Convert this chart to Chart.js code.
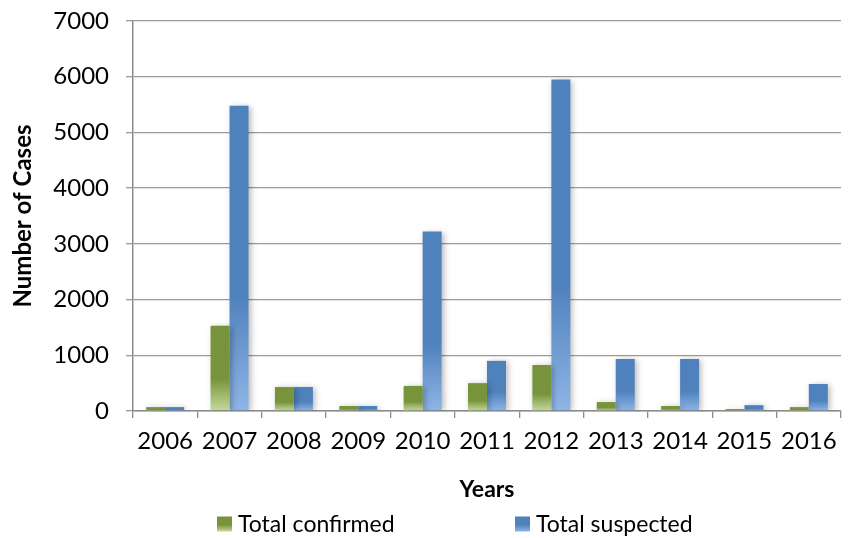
<!DOCTYPE html>
<html>
<head>
<meta charset="utf-8">
<script src="https://cdn.jsdelivr.net/npm/chart.js@4/dist/chart.umd.min.js"></script>
<style>
  html, body { margin: 0; padding: 0; background: #ffffff; }
  #wrap { width: 853px; height: 538px; }
</style>
</head>
<body>
<div id="wrap"><canvas id="c" width="853" height="538"></canvas></div>
<script>
// Yearly case counts
const years = ['2006','2007','2008','2009','2010','2011','2012','2013','2014','2015','2016'];
const totalConfirmed = [70, 1530, 430, 90, 450, 500, 825, 160, 90, 35, 70];
const totalSuspected = [70, 5480, 430, 90, 3220, 900, 5950, 935, 935, 105, 485];
const yTicks = [0, 1000, 2000, 3000, 4000, 5000, 6000, 7000];

const FONT = 'Lato, "Open Sans", sans-serif';
const GREEN = ['#77933c', '#c6d99e'];
const BLUE = ['#4f81bd', '#8fb5e6'];

// Vertical fade toward a lighter tone near the foot of each bar
function barFill(colors) {
  return function (ctx) {
    const chart = ctx.chart;
    if (ctx.type !== 'data' || !chart.chartArea) return colors[0];
    const y = chart.scales.y;
    const top = y.getPixelForValue(ctx.raw);
    const base = y.getPixelForValue(0);
    if (!isFinite(top) || base - top < 1) return colors[0];
    const g = chart.ctx.createLinearGradient(0, top, 0, base);
    g.addColorStop(0, colors[0]);
    g.addColorStop(0.62, colors[0]);
    g.addColorStop(1, colors[1]);
    return g;
  };
}

// Soft drop shadow behind bars
const barShadow = {
  id: 'barShadow',
  beforeDatasetsDraw(chart) {
    const c = chart.ctx;
    c.save();
    c.shadowColor = 'rgba(0,0,0,0.28)';
    c.shadowBlur = 6;
    c.shadowOffsetX = 2;
    c.shadowOffsetY = 1;
  },
  afterDatasetsDraw(chart) {
    chart.ctx.restore();
  }
};

// Legend row along the bottom edge
const bottomLegend = {
  id: 'bottomLegend',
  afterDraw(chart) {
    const c = chart.ctx;
    const items = [
      { x: 217, colors: GREEN, label: chart.data.datasets[0].label },
      { x: 515, colors: BLUE, label: chart.data.datasets[1].label }
    ];
    const yMid = 524;
    const box = 15;
    c.save();
    c.font = '23px ' + FONT;
    c.textBaseline = 'middle';
    c.fillStyle = '#000000';
    items.forEach(it => {
      const g = c.createLinearGradient(0, yMid - box / 2, 0, yMid + box / 2);
      g.addColorStop(0, it.colors[0]);
      g.addColorStop(0.55, it.colors[0]);
      g.addColorStop(1, it.colors[1]);
      c.fillStyle = g;
      c.fillRect(it.x, yMid - box / 2, box, box);
      c.fillStyle = '#000000';
      c.fillText(it.label, it.x + box + 6, yMid + 1);
    });
    c.restore();
  }
};

new Chart(document.getElementById('c'), {
  type: 'bar',
  data: {
    labels: years,
    datasets: [
      { label: 'Total confirmed', data: totalConfirmed, backgroundColor: barFill(GREEN),
        categoryPercentage: 0.59, barPercentage: 1.0 },
      { label: 'Total suspected', data: totalSuspected, backgroundColor: barFill(BLUE),
        categoryPercentage: 0.59, barPercentage: 1.0 }
    ]
  },
  options: {
    responsive: false,
    animation: false,
    layout: { padding: { left: 0, right: 12, top: 21, bottom: 0 } },
    plugins: {
      legend: { display: false },
      tooltip: { enabled: false }
    },
    scales: {
      x: {
        grid: { display: true, drawOnChartArea: false, drawTicks: true, tickLength: 7,
                color: '#8c8c8c', lineWidth: 1.3, offset: true },
        border: { display: true, color: '#8c8c8c', width: 1.5 },
        ticks: { color: '#000000', font: { family: FONT, size: 24 }, padding: 9, maxRotation: 0 },
        title: { display: true, text: 'Years', color: '#000000',
                 font: { family: FONT, size: 23, weight: 'bold' }, padding: { top: 0, bottom: 35 } },
        afterFit(scale) { scale.height = 127; scale.paddingLeft = 0; scale.paddingRight = 0; }
      },
      y: {
        min: 0, max: 7000,
        afterBuildTicks(scale) { scale.ticks = yTicks.map(v => ({ value: v })); },
        grid: { color: '#9a9a9a', lineWidth: 1.3, drawTicks: true, tickLength: 7 },
        border: { display: true, color: '#8c8c8c', width: 1.5 },
        ticks: { color: '#000000', font: { family: FONT, size: 24 }, padding: 17,
                 callback: v => String(v) },
        title: { display: true, text: 'Number of Cases', color: '#000000',
                 font: { family: FONT, size: 24, weight: 'bold' }, padding: { top: 9, bottom: 0 } },
        afterFit(scale) { scale.width = 133; scale.paddingTop = 0; scale.paddingBottom = 0; }
      }
    }
  },
  plugins: [barShadow, bottomLegend]
});
</script>
</body>
</html>
